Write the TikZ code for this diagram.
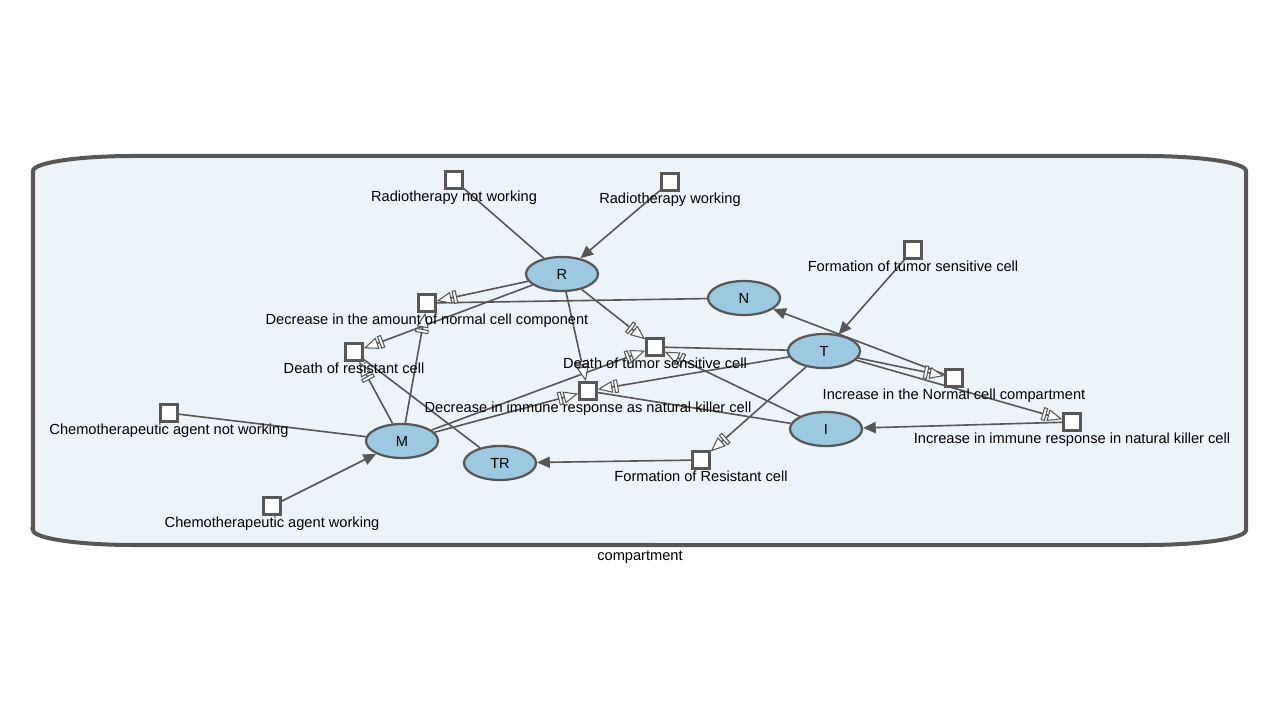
\documentclass[tikz,border=0pt]{standalone}
\usepackage{fontspec}
\setmainfont{Liberation Sans}
\usetikzlibrary{positioning}
\usetikzlibrary{shapes.geometric}
\usetikzlibrary{arrows.meta}
\definecolor{edgegray}{HTML}{575757}
\definecolor{ovalblue}{HTML}{9CC9E0}
\definecolor{compfill}{HTML}{ECF4FA}

\tikzset{
  species/.style={ellipse,draw=edgegray,line width=1.6pt,fill=ovalblue,
                  minimum width=1.8cm,minimum height=0.85cm,inner sep=0pt,
                  font=\fontsize{10.4}{12}\selectfont},
  process/.style={rectangle,draw=edgegray,line width=2.2pt,fill=white,
                  minimum size=0.41cm,inner sep=0pt},
  caption/.style={inner sep=0pt,font=\fontsize{10.4}{12}\selectfont},
  plain/.style={draw=edgegray,line width=1.15pt},
  stim/.style={plain,-{Triangle[length=9pt,width=8pt,fill=edgegray]}},
  flux/.style={plain,-{Rectangle[open,fill=white,length=3pt,width=9.5pt,sep=1.2pt,line width=0.75pt]
                      Triangle[open,fill=white,length=10.5pt,width=8.5pt,line width=0.75pt]}},
}

\begin{document}
\begin{tikzpicture}[x=0.025cm,y=-0.025cm]
    \useasboundingbox (0,0) rectangle (1280,720);

    \draw[draw=edgegray,fill=compfill,line width=2.85pt]
      (33,530) -- (33,171) arc[start angle=180,end angle=90,x radius=2.5cm,y radius=0.375cm]
      -- (1146,156) arc[start angle=90,end angle=0,x radius=2.5cm,y radius=0.375cm]
      -- (1246,530) arc[start angle=0,end angle=-90,x radius=2.5cm,y radius=0.375cm]
      -- (133,545) arc[start angle=-90,end angle=-180,x radius=2.5cm,y radius=0.375cm]
      -- cycle;
    \coordinate (cbot) at (640,545);
    \node (complabel) [caption, below=4pt of cbot] {compartment};

    \node (R)  [species] at (562,274) {R};
    \node (N)  [species] at (744,298) {N};
    \node (T)  [species] at (824,351) {T};
    \node (I)  [species] at (826,429) {I};
    \node (M)  [species] at (402,441) {M};
    \node (TR) [species] at (500,463) {TR};

    \node (rnw) [process] at (454,180) {};
    \node (rw)  [process] at (670,182) {};
    \node (fts) [process] at (913,250) {};
    \node (dan) [process] at (427,303) {};
    \node (drc) [process] at (354,352) {};
    \node (dts) [process] at (655,347) {};
    \node (dir) [process] at (588,391) {};
    \node (inc) [process] at (954,378) {};
    \node (iir) [process] at (1072,422) {};
    \node (cnw) [process] at (169,413) {};
    \node (cw)  [process] at (272,506) {};
    \node (frc) [process] at (701,460) {};

    \foreach \a/\b in {rnw/R, N/dan, drc/TR, T/dts, I/dir, cnw/M} {
      \draw[plain] (\a) -- (\b);
    }

    \foreach \a/\b in {rw/R, fts/T, frc/TR, inc/N, iir/I, cw/M} {
      \draw[stim] (\a) -- (\b);
    }

    \foreach \a/\b in {R/dan, R/drc, M/dan, M/drc, M/dts, M/dir, R/dir,
                       R/dts, I/dts, T/dir, T/frc, T/inc, T/iir} {
      \draw[flux] (\a) -- (\b);
    }

    \node (rnwl) [caption, below=0.5pt of rnw] {Radiotherapy not working};
    \node (rwl)  [caption, below=0.5pt of rw]  {Radiotherapy working};
    \node (ftsl) [caption, below=0.5pt of fts] {Formation of tumor sensitive cell};
    \node (danl) [caption, below=0.5pt of dan] {Decrease in the amount of normal cell component};
    \node (drcl) [caption, below=0.5pt of drc] {Death of resistant cell};
    \node (dtsl) [caption, below=0.5pt of dts] {Death of tumor sensitive cell};
    \node (dirl) [caption, below=0.5pt of dir] {Decrease in immune response as natural killer cell};
    \node (incl) [caption, below=0.5pt of inc] {Increase in the Normal cell compartment};
    \node (iirl) [caption, below=0.5pt of iir] {Increase in immune response in natural killer cell};
    \node (cnwl) [caption, below=0.5pt of cnw] {Chemotherapeutic agent not working};
    \node (cwl)  [caption, below=0.5pt of cw]  {Chemotherapeutic agent working};
    \node (frcl) [caption, below=0.5pt of frc] {Formation of Resistant cell};

  \end{tikzpicture}
\end{document}
